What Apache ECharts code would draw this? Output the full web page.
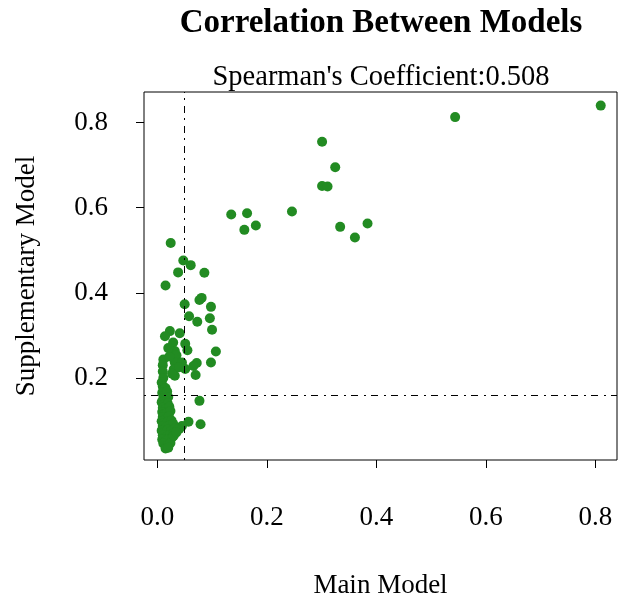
<!DOCTYPE html>
<html>
<head>
<meta charset="utf-8">
<script src="https://cdn.jsdelivr.net/npm/echarts@6/dist/echarts.min.js"></script>
<style>html,body{margin:0;padding:0;background:#fff;}#c{width:619px;height:604px;}</style>
</head>
<body>
<div id="c"></div>
<script>
// [Main Model, Supplementary Model]
const highPoints = [
  [0.810,0.840],[0.544,0.813],[0.301,0.755],[0.325,0.695],[0.301,0.651],[0.311,0.650],
  [0.135,0.584],[0.164,0.587],[0.159,0.548],[0.180,0.558],[0.246,0.591],[0.334,0.555],
  [0.384,0.563],[0.361,0.530]
];
const midPoints = [
  [0.0245,0.517],[0.0475,0.476],[0.061,0.465],[0.038,0.448],[0.086,0.447],[0.015,0.417],
  [0.081,0.388],[0.077,0.383],[0.050,0.373],[0.098,0.367],[0.058,0.345],[0.073,0.332],
  [0.096,0.340],[0.100,0.313],[0.023,0.310],[0.041,0.305],[0.014,0.298],[0.029,0.283],
  [0.051,0.280],[0.032,0.263],[0.055,0.265],[0.107,0.262],[0.035,0.253],[0.011,0.243],
  [0.010,0.230],[0.032,0.236],[0.045,0.236],[0.072,0.235],[0.098,0.236],[0.030,0.220],
  [0.051,0.221],[0.066,0.228],[0.070,0.207],[0.032,0.205],[0.027,0.210],[0.040,0.225],
  [0.022,0.250],[0.020,0.270],[0.010,0.215],[0.011,0.200],[0.077,0.146],[0.057,0.097],
  [0.079,0.091],[0.045,0.087],[0.040,0.080]
];
const clusterPoints = [
  [0.008,0.189],[0.010,0.180],[0.012,0.172],[0.015,0.176],[0.009,0.165],[0.013,0.160],
  [0.018,0.168],[0.011,0.152],[0.016,0.148],[0.020,0.155],[0.008,0.143],[0.012,0.137],
  [0.019,0.140],[0.010,0.130],[0.015,0.126],[0.022,0.132],[0.009,0.120],[0.013,0.115],
  [0.018,0.118],[0.024,0.122],[0.010,0.108],[0.016,0.104],[0.021,0.110],[0.008,0.098],
  [0.012,0.094],[0.019,0.097],[0.026,0.100],[0.010,0.087],[0.015,0.083],[0.022,0.088],
  [0.029,0.092],[0.008,0.076],[0.013,0.072],[0.019,0.078],[0.025,0.075],[0.033,0.082],
  [0.010,0.065],[0.016,0.061],[0.023,0.066],[0.030,0.070],[0.037,0.078],[0.009,0.055],
  [0.014,0.050],[0.020,0.056],[0.027,0.060],[0.011,0.046],[0.017,0.040],[0.024,0.047],
  [0.015,0.034],[0.020,0.036],[0.030,0.064],[0.035,0.072]
];
const tickValues = [0, 0.2, 0.4, 0.6, 0.8];
const tickLabels = ['0.0', '0.2', '0.4', '0.6', '0.8'];
const refX = 0.048;
const refY = 0.160;
const titleText = 'Correlation Between Models';
const subtitleText = "Spearman's Coefficient:0.508";

const FONT = '"Liberation Serif", "Times New Roman", serif';
const chart = echarts.init(document.getElementById('c'), null, {renderer: 'canvas'});
const allPoints = highPoints.concat(midPoints, clusterPoints);
const dash = [2, 5, 7, 6];
const fmt = v => tickLabels[tickValues.findIndex(t => Math.abs(t - v) < 1e-9)] ?? '';

chart.setOption({
  animation: false,
  backgroundColor: '#fff',
  grid: {left: 144, right: 2, top: 92, bottom: 143, show: true, borderColor: '#000', borderWidth: 1, backgroundColor: 'transparent'},
  title: [
    {text: titleText, left: 381, top: 7, padding: 0, textAlign: 'center', textStyle: {fontFamily: FONT, fontWeight: 'bold', fontSize: 33, color: '#000'}},
    {text: subtitleText, left: 381, top: 63, padding: 0, textAlign: 'center', textStyle: {fontFamily: FONT, fontWeight: 'normal', fontSize: 28.5, color: '#000'}}
  ],
  xAxis: {
    type: 'value', min: -0.0243, max: 0.8397,
    name: 'Main Model', nameLocation: 'middle', nameGap: 112,
    nameTextStyle: {fontFamily: FONT, fontSize: 27, color: '#000'},
    axisLine: {show: false, onZero: false},
    splitLine: {show: false},
    axisTick: {show: true, inside: false, length: 8, customValues: tickValues, lineStyle: {color: '#000', width: 1}},
    axisLabel: {show: true, margin: 44, customValues: tickValues, fontFamily: FONT, fontSize: 27, color: '#000', formatter: fmt}
  },
  yAxis: {
    type: 'value', min: 0.007, max: 0.872,
    name: 'Supplementary Model', nameLocation: 'middle', nameGap: 104, nameRotate: 90,
    nameTextStyle: {fontFamily: FONT, fontSize: 27, color: '#000'},
    axisLine: {show: false, onZero: false},
    splitLine: {show: false},
    axisTick: {show: true, inside: false, length: 8, customValues: tickValues.slice(1), lineStyle: {color: '#000', width: 1}},
    axisLabel: {show: true, margin: 36, customValues: tickValues.slice(1), fontFamily: FONT, fontSize: 27, color: '#000', formatter: fmt}
  },
  series: [{
    type: 'scatter',
    data: allPoints,
    symbol: 'circle',
    symbolSize: 10,
    itemStyle: {color: '#228B22', opacity: 1},
    markLine: {
      silent: true, symbol: 'none', animation: false,
      label: {show: false},
      lineStyle: {color: '#000', width: 1, type: dash},
      data: [{xAxis: refX}, {yAxis: refY}]
    }
  }]
});
</script>
</body>
</html>
